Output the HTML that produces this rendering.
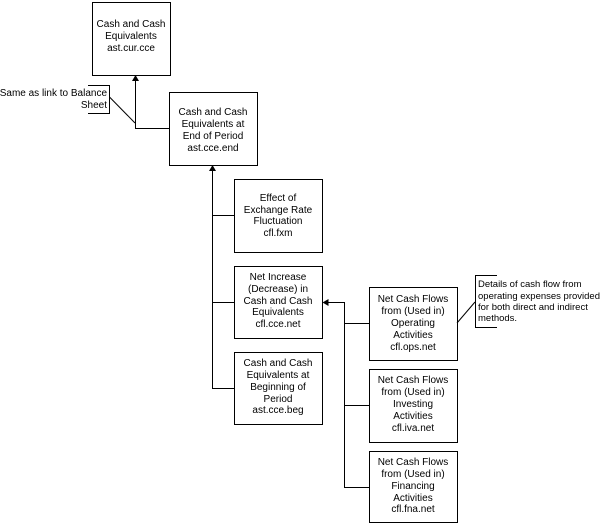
<!DOCTYPE html>
<html><head><style>
html,body{margin:0;padding:0;background:#fff;}
svg{display:block;}
text{font-family:"Liberation Sans",sans-serif;font-size:10px;fill:#000;}
</style></head><body>
<svg width="605" height="525" viewBox="0 0 605 525" xmlns="http://www.w3.org/2000/svg">
<g fill="#fff" stroke="#000" stroke-width="1">
<rect x="92.5" y="2.5" width="78" height="73"/>
<rect x="169.5" y="92.5" width="88" height="73"/>
<rect x="234.5" y="179.5" width="88" height="73"/>
<rect x="234.5" y="266.5" width="88" height="72"/>
<rect x="234.5" y="352.5" width="88" height="72"/>
<rect x="369.5" y="287.5" width="88" height="73"/>
<rect x="369.5" y="369.5" width="88" height="73"/>
<rect x="369.5" y="451.5" width="88" height="71"/>
</g>
<g stroke="#000" stroke-width="1" fill="none">
<polyline points="169,128.5 135.5,128.5 135.5,78"/>
<polyline points="212.5,168 212.5,388.5 234,388.5"/>
<line x1="212.5" y1="215.5" x2="234" y2="215.5"/>
<line x1="212.5" y1="302.5" x2="234" y2="302.5"/>
<polyline points="325,302.5 344.5,302.5 344.5,487.5 369,487.5"/>
<line x1="344.5" y1="323.5" x2="369" y2="323.5"/>
<line x1="344.5" y1="405.5" x2="369" y2="405.5"/>
<polyline points="88,85.5 109.5,85.5 109.5,113.5 88,113.5"/>
<line x1="109.5" y1="97" x2="135" y2="123"/>
<polyline points="497,275.5 475.5,275.5 475.5,327.5 497,327.5"/>
<line x1="457" y1="323" x2="475" y2="302"/>
</g>
<g fill="#000">
<polygon points="135.5,75 132,81 139,81"/>
<polygon points="212.5,165 209,171 216,171"/>
<polygon points="322.5,302.5 328.5,299 328.5,306"/>
</g>
<g text-anchor="middle">
<text x="131" y="27">Cash and Cash</text><text x="131" y="39">Equivalents</text><text x="131" y="51">ast.cur.cce</text>
<text x="213" y="115">Cash and Cash</text><text x="213" y="127">Equivalents at</text><text x="213" y="139">End of Period</text><text x="213" y="151">ast.cce.end</text>
<text x="278" y="201">Effect of</text><text x="278" y="213">Exchange Rate</text><text x="278" y="224">Fluctuation</text><text x="278" y="236">cfl.fxm</text>
<text x="278" y="280">Net Increase</text><text x="278" y="292">(Decrease) in</text><text x="278" y="304">Cash and Cash</text><text x="278" y="315">Equivalents</text><text x="278" y="327">cfl.cce.net</text>
<text x="278" y="366">Cash and Cash</text><text x="278" y="378">Equivalents at</text><text x="278" y="390">Beginning of</text><text x="278" y="402">Period</text><text x="278" y="413">ast.cce.beg</text>
<text x="413" y="302">Net Cash Flows</text><text x="413" y="314">from (Used in)</text><text x="413" y="326">Operating</text><text x="413" y="338">Activities</text><text x="413" y="350">cfl.ops.net</text>
<text x="413" y="383">Net Cash Flows</text><text x="413" y="395">from (Used in)</text><text x="413" y="407">Investing</text><text x="413" y="419">Activities</text><text x="413" y="431">cfl.iva.net</text>
<text x="413" y="465">Net Cash Flows</text><text x="413" y="477">from (Used in)</text><text x="413" y="489">Financing</text><text x="413" y="501">Activities</text><text x="413" y="512">cfl.fna.net</text>
</g>
<g text-anchor="end">
<text x="107" y="96">Same as link to Balance</text><text x="107" y="108">Sheet</text>
</g>
<g font-size="9.5">
<text x="478" y="287" style="font-size:9.5px">Details of cash flow from</text>
<text x="478" y="299" style="font-size:9.5px">operating expenses provided</text>
<text x="478" y="310" style="font-size:9.5px">for both direct and indirect</text>
<text x="478" y="321" style="font-size:9.5px">methods.</text>
</g>
</svg>
</body></html>
